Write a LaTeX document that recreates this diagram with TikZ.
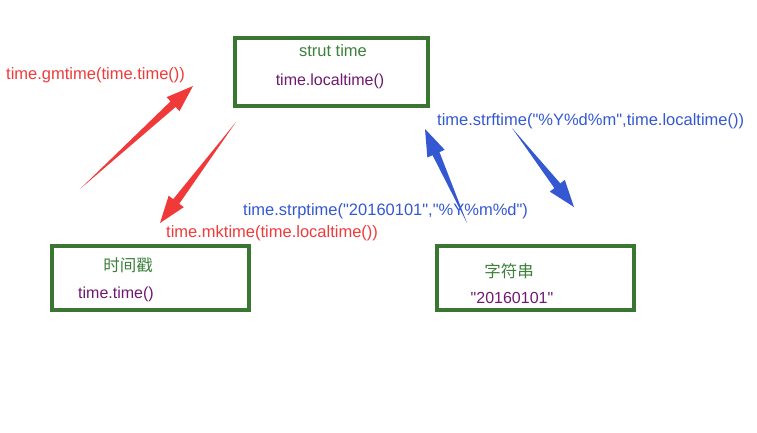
\documentclass[tikz,border=0pt]{standalone}
\usepackage{fontspec}
\setmainfont{Liberation Sans}[Ligatures=TeXOff]
\newfontfamily\cjk{Noto Sans CJK SC}
\usetikzlibrary{calc}
\definecolor{boxgreen}{RGB}{56,118,50}
\definecolor{txtgreen}{RGB}{60,128,60}
\definecolor{txtpurple}{RGB}{112,24,112}
\definecolor{arrred}{RGB}{240,58,58}
\definecolor{arrblue}{RGB}{52,88,210}
% tapered arrow from (#1) to (#2)
\newcommand\taperarrow[3]{%
  \coordinate (hb) at ($(#2)!27pt!(#1)$);
  \fill[#3] (#1) -- ($(hb)!3.8pt!90:(#2)$) -- ($(hb)!9.5pt!90:(#2)$) -- (#2)
    -- ($(hb)!9.5pt!-90:(#2)$) -- ($(hb)!3.8pt!-90:(#2)$) -- cycle;}
\begin{document}
\begin{tikzpicture}[x=1pt,y=-1pt,
    box/.style={draw=boxgreen, line width=3.2pt, inner sep=0pt},
    title/.style={text=txtgreen, font=\fontsize{16.5}{18}\selectfont},
    call/.style={text=txtpurple, font=\fontsize{16}{18}\selectfont},
    redlbl/.style={text=arrred, anchor=west, inner sep=0pt, font=\fontsize{16.5}{18}\selectfont},
    bluelbl/.style={text=arrblue, anchor=west, inner sep=0pt, font=\fontsize{16.5}{18}\selectfont}
  ]
  \useasboundingbox (0,0) rectangle (757,433);

  % boxes
  \node[box, minimum width=193pt, minimum height=68pt] (struct) at (331.5,72) {};
  \node[box, minimum width=197pt, minimum height=64pt] (stamp) at (150.5,278) {};
  \node[box, minimum width=197pt, minimum height=64pt] (string) at (535.5,278) {};

  \node[title] (structT) at (333,51) {strut time};
  \node[call] (structC) at (330,81) {time.localtime()};
  \node[title] (stampT) at (128,265) {\cjk 时间戳};
  \node[call] (stampC) at (116,294) {time.time()};
  \node[title] (stringT) at (509,271) {\cjk 字符串};
  \node[call] (stringC) at (512,298) {"20160101"};

  % labels
  \node[redlbl] (gm) at (6,75) {time.gmtime(time.time())};
  \node[redlbl] (mk) at (166,233) {time.mktime(time.localtime())};
  \node[bluelbl] (strp) at (243,211) {time.strptime("20160101","\%Y\%m\%d")};
  \node[bluelbl] (strf) at (437,121) {time.strftime("\%Y\%d\%m",time.localtime())};

  % arrows
  \coordinate (r1a) at (80,189);  \coordinate (r1b) at (193,86);
  \coordinate (r2a) at (236,122); \coordinate (r2b) at (160,223);
  \coordinate (b1a) at (467,223); \coordinate (b1b) at (425,129);
  \coordinate (b2a) at (512,128); \coordinate (b2b) at (574,207);
  \taperarrow{r1a}{r1b}{arrred}
  \taperarrow{r2a}{r2b}{arrred}
  \taperarrow{b1a}{b1b}{arrblue}
  \taperarrow{b2a}{b2b}{arrblue}
\end{tikzpicture}
\end{document}
